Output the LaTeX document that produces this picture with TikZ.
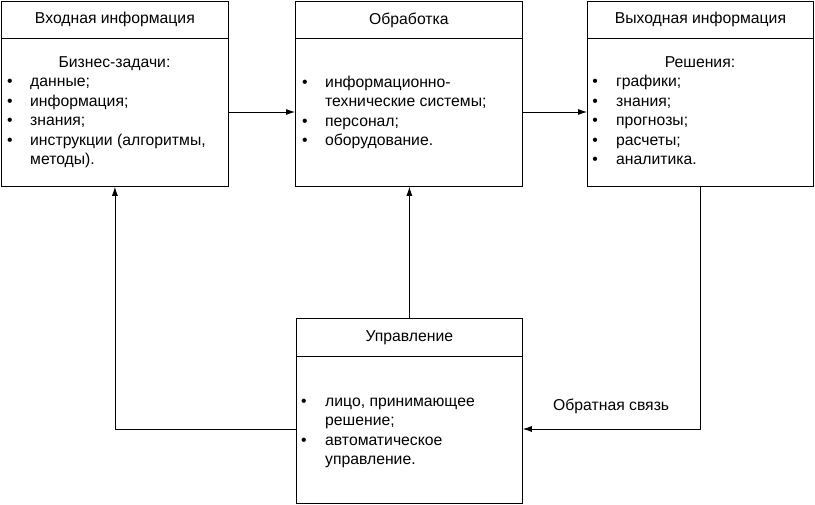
\documentclass[tikz,border=0pt]{standalone}
\usepackage{fontspec}
\setmainfont{Liberation Sans}
\usetikzlibrary{arrows.meta}
\begin{document}
\begin{tikzpicture}[x=1bp,y=-1bp,
  every node/.style={font=\fontsize{15.8}{18}\selectfont},
  box/.style={draw, line width=0.8bp, inner sep=0, anchor=north west},
  txt/.style={anchor=base west, inner sep=0},
  ctxt/.style={anchor=base, inner sep=0},
  arr/.style={draw, line width=0.8bp, -{Latex[length=9bp,width=6bp]}}]
\useasboundingbox (0,0) rectangle (815,505);
% boxes
\node[box, minimum width=227bp, minimum height=185bp] (b1) at (1,1) {};
\node[box, minimum width=227bp, minimum height=37bp] (h1) at (1,1) {Входная информация};
\node[box, minimum width=227bp, minimum height=185bp] (b2) at (295,1) {};
\node[box, minimum width=227bp, minimum height=37bp] (h2) at (295,1) {Обработка};
\node[box, minimum width=226bp, minimum height=185bp] (b3) at (587,1) {};
\node[box, minimum width=226bp, minimum height=37bp] (h3) at (587,1) {Выходная информация};
\node[box, minimum width=226bp, minimum height=185bp] (b4) at (296,318) {};
\node[box, minimum width=226bp, minimum height=38bp] (h4) at (296,318) {Управление};
% box 1 text
\node[ctxt] (t10) at (114.5,68) {Бизнес-задачи:};
\node[ctxt] (p11) at (10,87) {•};
\node[txt] (t11) at (30,87) {данные;};
\node[ctxt] (p12) at (10,107) {•};
\node[txt] (t12) at (30,107) {информация;};
\node[ctxt] (p13) at (10,126) {•};
\node[txt] (t13) at (30,126) {знания;};
\node[ctxt] (p14) at (10,146) {•};
\node[txt] (t14) at (30,146) {инструкции (алгоритмы,};
\node[txt] (t15) at (30,165) {методы).};
% box 2 text
\node[ctxt] (p21) at (305,87.5) {•};
\node[txt] (t21) at (325,87.5) {информационно-};
\node[txt] (t22) at (325,107) {технические системы;};
\node[ctxt] (p23) at (305,126.5) {•};
\node[txt] (t23) at (325,126.5) {персонал;};
\node[ctxt] (p24) at (305,146) {•};
\node[txt] (t24) at (325,146) {оборудование.};
% box 3 text
\node[ctxt] (t30) at (700,68) {Решения:};
\node[ctxt] (p31) at (595,87) {•};
\node[txt] (t31) at (616,87) {графики;};
\node[ctxt] (p32) at (595,107) {•};
\node[txt] (t32) at (616,107) {знания;};
\node[ctxt] (p33) at (595,126) {•};
\node[txt] (t33) at (616,126) {прогнозы;};
\node[ctxt] (p34) at (595,146) {•};
\node[txt] (t34) at (616,146) {расчеты;};
\node[ctxt] (p35) at (595,165) {•};
\node[txt] (t35) at (616,165) {аналитика.};
% box 4 text
\node[ctxt] (p41) at (304,406) {•};
\node[txt] (t41) at (325,406) {лицо, принимающее};
\node[txt] (t42) at (325,425) {решение;};
\node[ctxt] (p43) at (304,445) {•};
\node[txt] (t43) at (325,445) {автоматическое};
\node[txt] (t44) at (325,464) {управление.};
% connectors
\coordinate (ya) at (0,112);
\coordinate (yf) at (0,429);
\draw[arr] (b1.east |- ya) -- (b2.west |- ya);
\draw[arr] (b2.east |- ya) -- (b3.west |- ya);
\draw[arr] (b4.north) -- (b4.north |- b2.south);
\draw[arr] (b4.west |- yf) -| (b1.south);
\draw[arr] (b3.south) |- (b4.east |- yf);
\node[txt] (fb) at (553,410) {Обратная связь};
\end{tikzpicture}
\end{document}
